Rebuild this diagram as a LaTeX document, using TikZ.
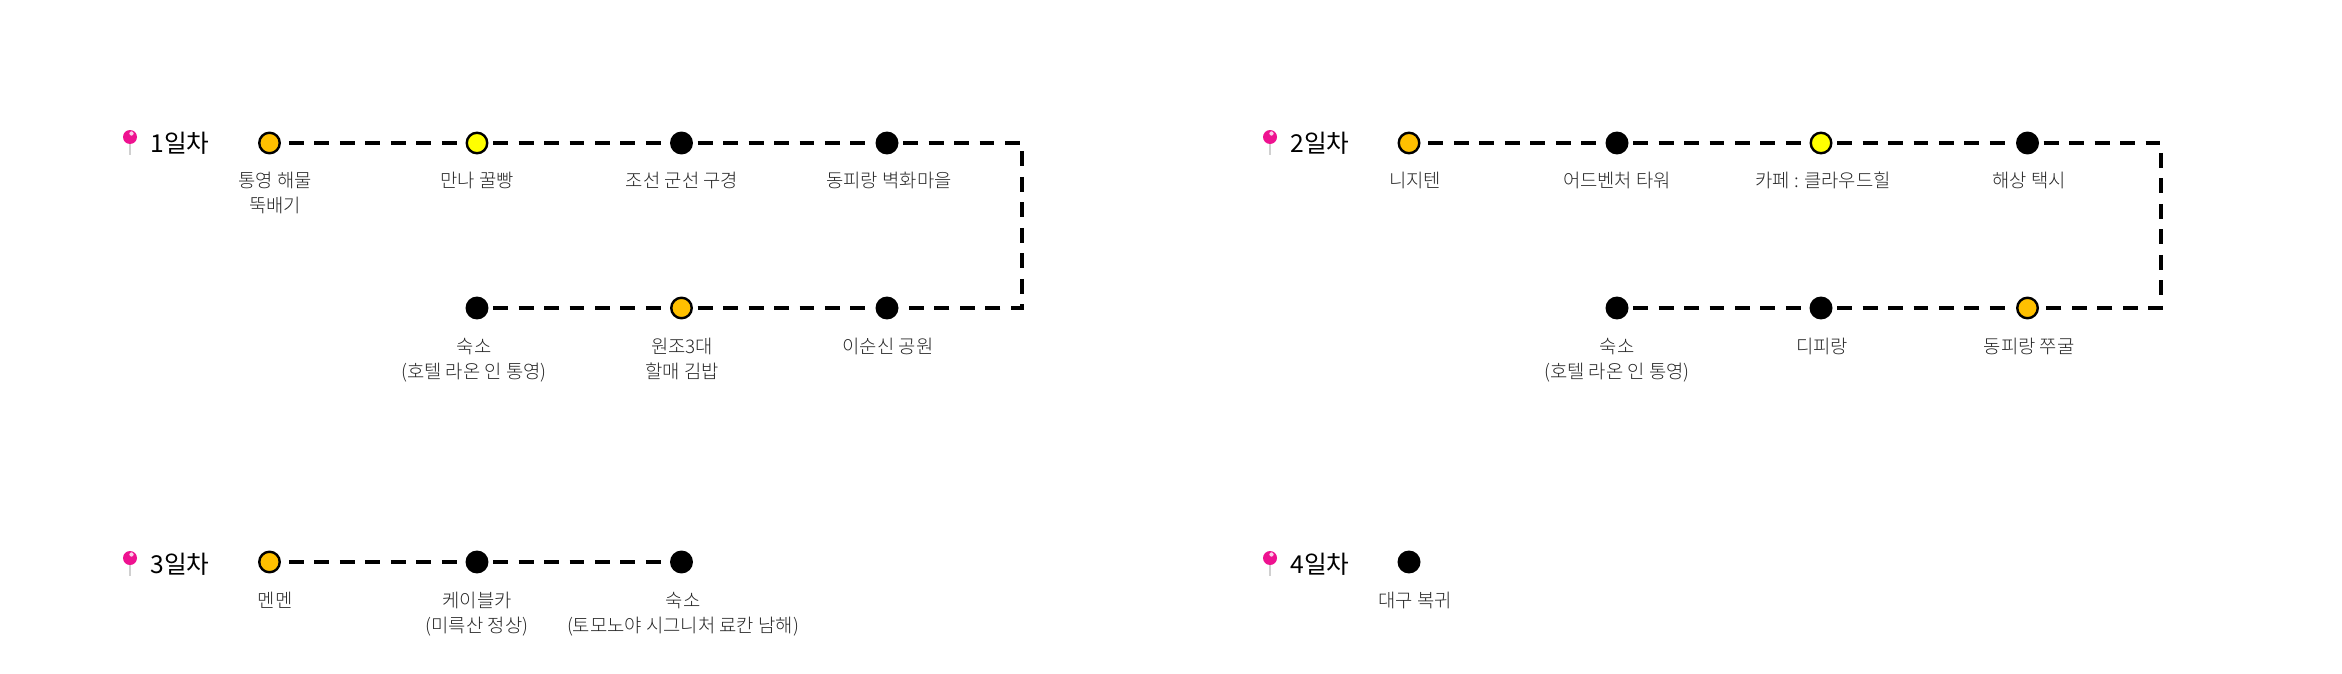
\documentclass[tikz,border=0pt]{standalone}
\usepackage{fontspec}
\setmainfont{Noto Sans CJK KR Light}
\newfontfamily\headfont{Noto Sans CJK KR}
\definecolor{stoporange}{HTML}{FFC000}
\definecolor{stopyellow}{HTML}{FFFF00}
\definecolor{pinpink}{HTML}{EE1290}
\definecolor{pingrey}{HTML}{D0D0D0}
\definecolor{labelgrey}{HTML}{262626}
\tikzset{
  stopdot/.style={circle,draw=black,line width=1.8pt,minimum size=15.4pt,inner sep=0pt,fill=#1},
  stopdot/.default=black,
  route/.style={line width=3.4pt,dash pattern=on 11.2pt off 7.9pt,miter limit=10,shorten >=3.5pt,shorten <=3.5pt},
  firstroute/.style={route,shorten <=6pt,shorten >=6pt},
  stoplabel/.style={anchor=north,align=center,inner sep=0pt,text=labelgrey,font=\fontsize{14.1}{18.9}\selectfont},
  dayhead/.style={anchor=center,inner sep=0pt,text=black,font=\headfont\fontsize{18.5}{20}\selectfont},
  pinhead/.style={circle,fill=pinpink,inner sep=0pt,minimum size=10.5pt},
  pinspot/.style={circle,fill=white,fill opacity=.8,inner sep=0pt,minimum size=3.2pt},
  pinstem/.style={draw=pingrey,line width=1.3pt}
}
\begin{document}
\begin{tikzpicture}[x=0.75pt,y=-0.75pt]
\useasboundingbox (0,0) rectangle (2342,674);
% pins and headings
\foreach \n/\x/\y/\t in {a/130/137/1,b/1270/137/2,c/130/558/3,d/1270/558/4}{
  \coordinate (stem\n) at (\x,\y+18);
  \node[pinhead] (pin\n) at (\x,\y) {};
  \draw[pinstem] (pin\n.south) -- (stem\n);
  \node[pinspot] (spot\n) at (\x+1.5,\y-3.5) {};
  \node[dayhead] (head\n) at (\x+50,\y+6) {{\t}일차};
}
% day 1
\node[stopdot=stoporange] (a1) at (269.5,143) {};
\node[stopdot=stopyellow] (a2) at (477,143) {};
\node[stopdot] (a3) at (681.5,143) {};
\node[stopdot] (a4) at (887,143) {};
\coordinate (ac1) at (1022,143);
\coordinate (ac2) at (1022,308);
\node[stopdot] (a5) at (887,308) {};
\node[stopdot=stoporange] (a6) at (681.5,308) {};
\node[stopdot] (a7) at (477,308) {};
\draw[firstroute] (a1) -- (a2);
\draw[route] (a2) -- (a3);
\draw[route] (a3) -- (a4);
\draw[route] (a4) -- (ac1) -- (ac2) -- (a5);
\draw[route] (a6) -- (a5);
\draw[route] (a7) -- (a6);
\node[stoplabel] (la1) at (275,172) {통영 해물\\뚝배기};
\node[stoplabel] (la2) at (477,172) {만나 꿀빵};
\node[stoplabel] (la3) at (682,172) {조선 군선 구경};
\node[stoplabel] (la4) at (889,172) {동피랑 벽화마을};
\node[stoplabel] (la5) at (888,338) {이순신 공원};
\node[stoplabel] (la6) at (682,338) {원조3대\\할매 김밥};
\node[stoplabel] (la7) at (474,338) {숙소\\(호텔 라온 인 통영)};
% day 2
\node[stopdot=stoporange] (b1) at (1409,143) {};
\node[stopdot] (b2) at (1617,143) {};
\node[stopdot=stopyellow] (b3) at (1821,143) {};
\node[stopdot] (b4) at (2027.5,143) {};
\coordinate (bc1) at (2161,143);
\coordinate (bc2) at (2161,308);
\node[stopdot=stoporange] (b5) at (2027.5,308) {};
\node[stopdot] (b6) at (1821,308) {};
\node[stopdot] (b7) at (1617,308) {};
\draw[firstroute] (b1) -- (b2);
\draw[route] (b2) -- (b3);
\draw[route] (b3) -- (b4);
\draw[route] (b4) -- (bc1) -- (bc2) -- (b5);
\draw[route] (b6) -- (b5);
\draw[route] (b7) -- (b6);
\node[stoplabel] (lb1) at (1415,172) {니지텐};
\node[stoplabel] (lb2) at (1617,172) {어드벤처 타워};
\node[stoplabel] (lb3) at (1823,172) {카페 : 클라우드힐};
\node[stoplabel] (lb4) at (2029,172) {해상 택시};
\node[stoplabel] (lb5) at (2029,338) {동피랑 쭈굴};
\node[stoplabel] (lb6) at (1822,338) {디피랑};
\node[stoplabel] (lb7) at (1617,338) {숙소\\(호텔 라온 인 통영)};
% day 3
\node[stopdot=stoporange] (c1) at (269.5,562) {};
\node[stopdot] (c2) at (477,562) {};
\node[stopdot] (c3) at (681.5,562) {};
\draw[firstroute] (c1) -- (c2);
\draw[route] (c2) -- (c3);
\node[stoplabel] (lc1) at (275,592) {멘멘};
\node[stoplabel] (lc2) at (477,592) {케이블카\\(미륵산 정상)};
\node[stoplabel] (lc3) at (683,592) {숙소\\(토모노야 시그니처 료칸 남해)};
% day 4
\node[stopdot] (d1) at (1409,562) {};
\node[stoplabel] (ld1) at (1415,592) {대구 복귀};
\end{tikzpicture}
\end{document}
